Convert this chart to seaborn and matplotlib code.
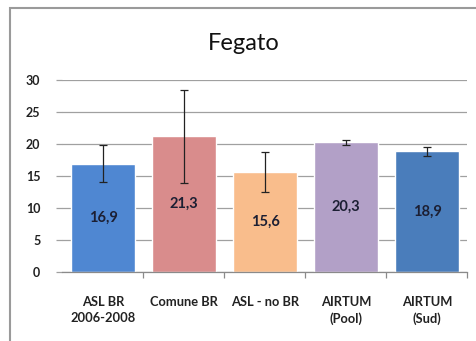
import matplotlib
matplotlib.use("Agg")
import matplotlib.pyplot as plt
import seaborn as sns
import pandas as pd
import numpy as np
from matplotlib.patches import Rectangle

categories = ["ASL BR\n2006-2008", "Comune BR", "ASL - no BR", "AIRTUM\n(Pool)", "AIRTUM\n(Sud)"]
values = [16.9, 21.3, 15.6, 20.3, 18.9]
err_low = [14.0, 13.9, 12.5, 19.9, 18.1]
err_high = [19.8, 28.5, 18.8, 20.7, 19.6]
value_labels = ["16,9", "21,3", "15,6", "20,3", "18,9"]
colors = ["#4F87D2", "#D98C8C", "#F9BD8C", "#B2A0C7", "#4A7DBB"]
yticks = [0, 5, 10, 15, 20, 25, 30]

sns.set_theme(style="white")
plt.rcParams['font.family'] = ['Lato', 'DejaVu Sans']

fig = plt.figure(figsize=(4.77, 3.41), dpi=100)
ax = fig.add_axes([0.131, 0.2023, 0.849, 0.5631])

df = pd.DataFrame({"cat": categories, "val": values})
sns.barplot(data=df, x="cat", y="val", hue="cat", palette=colors, legend=False,
            width=0.78, ax=ax, saturation=1, errorbar=None)

pos = np.arange(len(categories))
vals = np.array(values)
yerr = np.vstack([vals - np.array(err_low), np.array(err_high) - vals])
ax.errorbar(pos, vals, yerr=yerr, fmt="none", ecolor="#222222", elinewidth=0.9,
            capsize=3, capthick=0.9, zorder=5)

for c, lab in zip(ax.containers, value_labels):
    ax.bar_label(c, labels=[lab], label_type="center", fontsize=10.5,
                 fontweight="bold", color="#1c1f33")

ax.set_ylim(0, 30)
ax.set_yticks(yticks)
ax.set_xlim(-0.5, len(categories) - 0.5)
ax.set_xlabel("")
ax.set_ylabel("")
ax.yaxis.grid(True, color="#a0a0a0", linewidth=0.9)
ax.set_axisbelow(True)
for s in ["top", "right", "left"]:
    ax.spines[s].set_visible(False)
ax.spines["bottom"].set_color("#8a8a8a")
ax.spines["bottom"].set_linewidth(0.9)

ax.tick_params(axis="y", left=True, length=4, color="#a0a0a0", width=0.9,
               pad=12, labelsize=9, labelcolor="#222222")
ax.tick_params(axis="x", which="major", length=0, pad=17, labelsize=9.3,
               labelcolor="#222222")
ax.set_xticks(np.arange(0.5, len(categories) - 0.4, 1.0), minor=True)
ax.tick_params(axis="x", which="minor", bottom=True, length=4, color="#8a8a8a", width=0.9)
for t in ax.get_yticklabels():
    t.set_fontweight("bold")
for t in ax.get_xticklabels():
    t.set_fontweight("bold")
    t.set_linespacing(1.45)

fig.text(0.512, 0.873, "Fegato", ha="center", va="center", fontsize=17, color="#111111")

border = Rectangle((10 / 477, -0.05), 1.2, 1 - 8 / 341 + 0.05, transform=fig.transFigure,
                   fill=False, edgecolor="#9a9a9a", linewidth=1.5)
fig.patches.append(border)

fig.savefig("out.png", dpi=100)
